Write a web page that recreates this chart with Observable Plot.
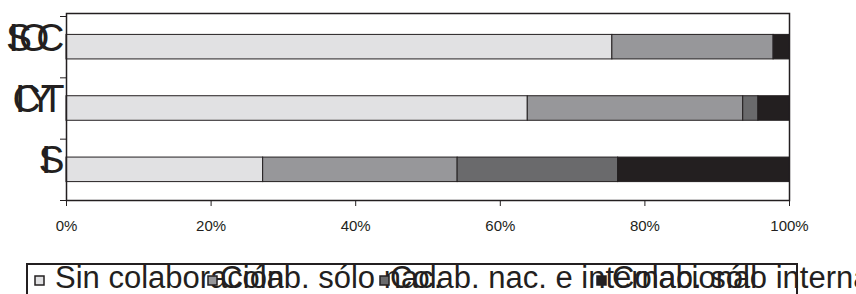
<!DOCTYPE html>
<html>
<head>
<meta charset="utf-8">
<script src="https://cdn.jsdelivr.net/npm/d3@7"></script>
<script src="https://cdn.jsdelivr.net/npm/@observablehq/plot@0.6"></script>
<style>
  html, body { margin: 0; padding: 0; background: #fff; overflow: hidden; }
  #wrap { position: relative; width: 856px; height: 294px; font-family: "Liberation Sans", Arial, sans-serif; }
  #chart { position: absolute; left: 0; top: 0; }
  #legend { position: absolute; left: 0; top: 250px; }
  .ylab g[aria-label="y-axis tick label"] text { letter-spacing: -13px; }
</style>
</head>
<body>
<div id="wrap"><div id="chart"></div><svg id="legend" width="856" height="44"></svg></div>
<script>
const categories = ["ISOC", "ICYT", "IS"];
const series = ["Sin colaboración", "Colab. sólo nac.", "Colab. nac. e internacional", "Colab. sólo internacional"];
const sinColab = [75.5, 63.8, 27.2];
const soloNac  = [22.3, 29.8, 26.9];
const nacInt   = [0.0, 2.1, 22.2];
const soloInt  = [2.2, 4.3, 23.7];
const colors = ["#e1e1e3", "#97979a", "#6a6a6c", "#231f20"];
const xTicks = [0, 20, 40, 60, 80, 100];

const seriesValues = [sinColab, soloNac, nacInt, soloInt];
const rows = [];
categories.forEach((c, i) => {
  let acc = 0;
  seriesValues.forEach((vals, s) => {
    const v = vals[i];
    if (v > 0) rows.push({cat: c, i, series: series[s], x1: acc, x2: acc + v});
    acc += v;
  });
});

const ink = "#231f20";
const plot = Plot.plot({
  width: 856,
  height: 250,
  marginLeft: 66,
  marginRight: 67,
  marginTop: 16,
  marginBottom: 50,
  className: "ylab",
  style: {fontFamily: '"Liberation Sans", Arial, sans-serif', color: ink, background: "#fff", overflow: "visible"},
  x: {domain: [0, 100]},
  y: {domain: [3, 0]},
  color: {domain: series, range: colors},
  marks: [
    Plot.rectX(rows, {x1: "x1", x2: "x2", y1: d => d.i + 0.3, y2: d => d.i + 0.7, fill: "series", stroke: ink, strokeWidth: 1}),
    Plot.frame({stroke: ink, strokeWidth: 1.5, insetTop: -3}),
    Plot.axisX({ticks: xTicks, tickFormat: d => d + "%", tickSize: 6, tickPadding: 14, fontSize: 15, stroke: ink, fill: ink, label: null}),
    Plot.axisY({ticks: [0, 1, 2, 3], tickSize: 6, tickFormat: () => "", stroke: ink, label: null}),
    Plot.axisY({ticks: [0.5, 1.5, 2.5], tickSize: 0, tickPadding: 3, dx: -12, dy: -9, tickFormat: v => categories[Math.floor(v)], fontSize: 39, fill: ink, label: null})
  ]
});
document.getElementById("chart").appendChild(plot);

// legend
const lg = d3.select("#legend");
lg.append("rect").attr("x", 27).attr("y", 14).attr("width", 770).attr("height", 40)
  .attr("fill", "none").attr("stroke", ink).attr("stroke-width", 2);
const sqX = [35, 208, 380, 597];
const txX = [55, 220, 390, 612];
series.forEach((s, k) => {
  lg.append("rect").attr("x", sqX[k]).attr("y", 26).attr("width", 9).attr("height", 9)
    .attr("fill", colors[k]).attr("stroke", ink).attr("stroke-width", 1.5);
  lg.append("text").attr("x", txX[k]).attr("y", 38).attr("fill", ink)
    .attr("font-family", '"Liberation Sans", Arial, sans-serif').attr("font-size", 31).text(s);
});
</script>
</body>
</html>
